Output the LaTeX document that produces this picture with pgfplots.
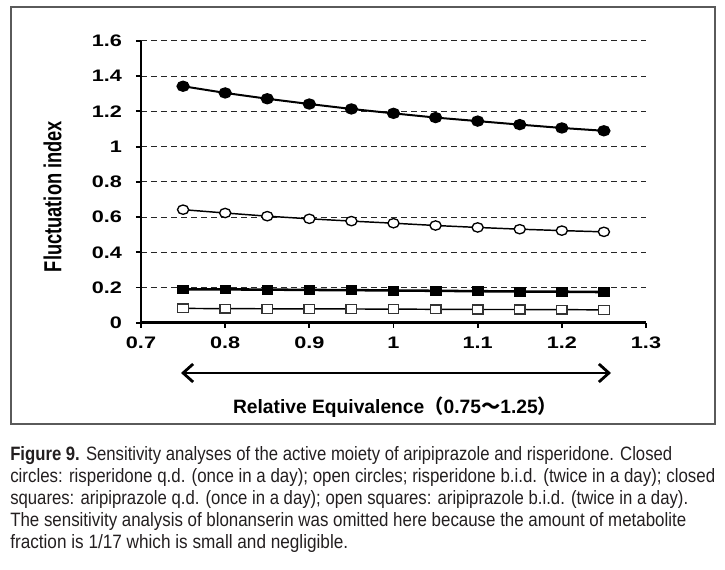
\documentclass[border=0pt]{standalone}
\usepackage{fontspec}
\setmainfont{Liberation Sans}
\newfontfamily\tickfont[FakeStretch=1.3]{Liberation Sans Bold}
\newfontfamily\cjk{Noto Sans CJK JP}
\usepackage{graphicx}
\usepackage{pgfplots}
\pgfplotsset{compat=1.18}
\usetikzlibrary{arrows.meta}
\definecolor{captxt}{HTML}{231F20}
\definecolor{framegray}{HTML}{5A5A5A}
\begin{document}
\begin{tikzpicture}
\useasboundingbox (0,0) rectangle (543.75pt,427.5pt);
\begin{axis}[
  at={(105.75pt,185.475pt)}, anchor=south west,
  scale only axis, width=378.75pt, height=211.275pt,
  xmin=0.7, xmax=1.3, ymin=0, ymax=1.6,
  axis lines=left,
  axis line style={-, line width=1.8pt, black},
  xtick={0.7,0.8,0.9,1,1.1,1.2,1.3},
  ytick={0,0.2,0.4,0.6,0.8,1,1.2,1.4,1.6},
  tick align=outside, major tick length=3.75pt,
  tick style={black, line width=1.4pt},
  ymajorgrids,
  grid style={black!85, line width=0.75pt, dash pattern=on 4.5pt off 3pt},
  ticklabel style={font=\tickfont\fontsize{12.5}{14}\selectfont},
  yticklabel style={xshift=-7pt},
  xticklabel style={yshift=-3.5pt},
  /pgf/number format/assume math mode=true,
  ylabel={Fluctuation index},
  ylabel style={font=\bfseries\fontsize{13.7}{16}\selectfont, at={(axis description cs:-0.175,0.448)}, anchor=center, yscale=1.35},
  clip=false,
]
% closed circles: risperidone q.d.
\addplot[black, line width=1.5pt, mark=*, mark size=3.5pt, mark options={xscale=1.2, fill=black, solid}] coordinates {
(0.75,1.343) (0.80,1.305) (0.85,1.272) (0.90,1.242) (0.95,1.214) (1.00,1.189) (1.05,1.165) (1.10,1.145) (1.15,1.125) (1.20,1.106) (1.25,1.090)};
% open circles: risperidone b.i.d.
\addplot[black, line width=1.1pt, mark=*, mark size=3.5pt, mark options={xscale=1.2, fill=white, draw=black, line width=1pt, solid}] coordinates {
(0.75,0.642) (0.80,0.623) (0.85,0.605) (0.90,0.590) (0.95,0.577) (1.00,0.565) (1.05,0.552) (1.10,0.541) (1.15,0.531) (1.20,0.523) (1.25,0.516)};
% closed squares: aripiprazole q.d.
\addplot[black, line width=1.9pt, mark=square*, mark size=3.3pt, mark options={xscale=1.2, fill=black, line width=0.5pt, solid}] coordinates {
(0.75,0.190) (0.80,0.189) (0.85,0.188) (0.90,0.186) (0.95,0.185) (1.00,0.183) (1.05,0.181) (1.10,0.179) (1.15,0.177) (1.20,0.176) (1.25,0.174)};
% open squares: aripiprazole b.i.d.
\addplot[black, line width=1.1pt, mark=square*, mark size=3.3pt, mark options={xscale=1.2, fill=white, draw=black!80, line width=1pt, solid}] coordinates {
(0.75,0.081) (0.80,0.080) (0.85,0.079) (0.90,0.078) (0.95,0.078) (1.00,0.077) (1.05,0.076) (1.10,0.075) (1.15,0.075) (1.20,0.074) (1.25,0.073)};
\end{axis}
\begin{scope}[yshift=427.5pt, x=0.75pt, y=-0.75pt]
  \draw[framegray, line width=1.5pt] (11,7) rectangle (715,424);
  \draw[black, line width=2.1pt, {Straight Barb[length=7.5pt,width=13.5pt]}-{Straight Barb[length=7.5pt,width=13.5pt]}] (181,373) -- (611,373);
  \node[anchor=base, inner sep=0pt] at (395,414) {\resizebox{243pt}{\height}{\bfseries\fontsize{14.5}{16}\selectfont Relative Equivalence{\cjk\bfseries （}0.75{\cjk\bfseries ～}1.25{\cjk\bfseries ）}}};
  \begin{scope}[every node/.style={anchor=base west, inner sep=0pt, text=captxt}]
  \node at (10,461) {\resizebox{496.5pt}{\height}{\fontsize{14.5}{16}\selectfont{\bfseries Figure 9.} Sensitivity analyses of the active moiety of aripiprazole and risperidone. Closed}};
  \node at (10,483) {\resizebox{528.75pt}{\height}{\fontsize{14.5}{16}\selectfont circles: risperidone q.d. (once in a day); open circles; risperidone b.i.d. (twice in a day); closed}};
  \node at (10,505) {\resizebox{508.5pt}{\height}{\fontsize{14.5}{16}\selectfont squares: aripiprazole q.d. (once in a day); open squares: aripiprazole b.i.d. (twice in a day).}};
  \node at (10,527) {\resizebox{507pt}{\height}{\fontsize{14.5}{16}\selectfont The sensitivity analysis of blonanserin was omitted here because the amount of metabolite}};
  \node at (10,549) {\resizebox{253.5pt}{\height}{\fontsize{14.5}{16}\selectfont fraction is 1/17 which is small and negligible.}};
  \end{scope}
\end{scope}
\end{tikzpicture}
\end{document}
